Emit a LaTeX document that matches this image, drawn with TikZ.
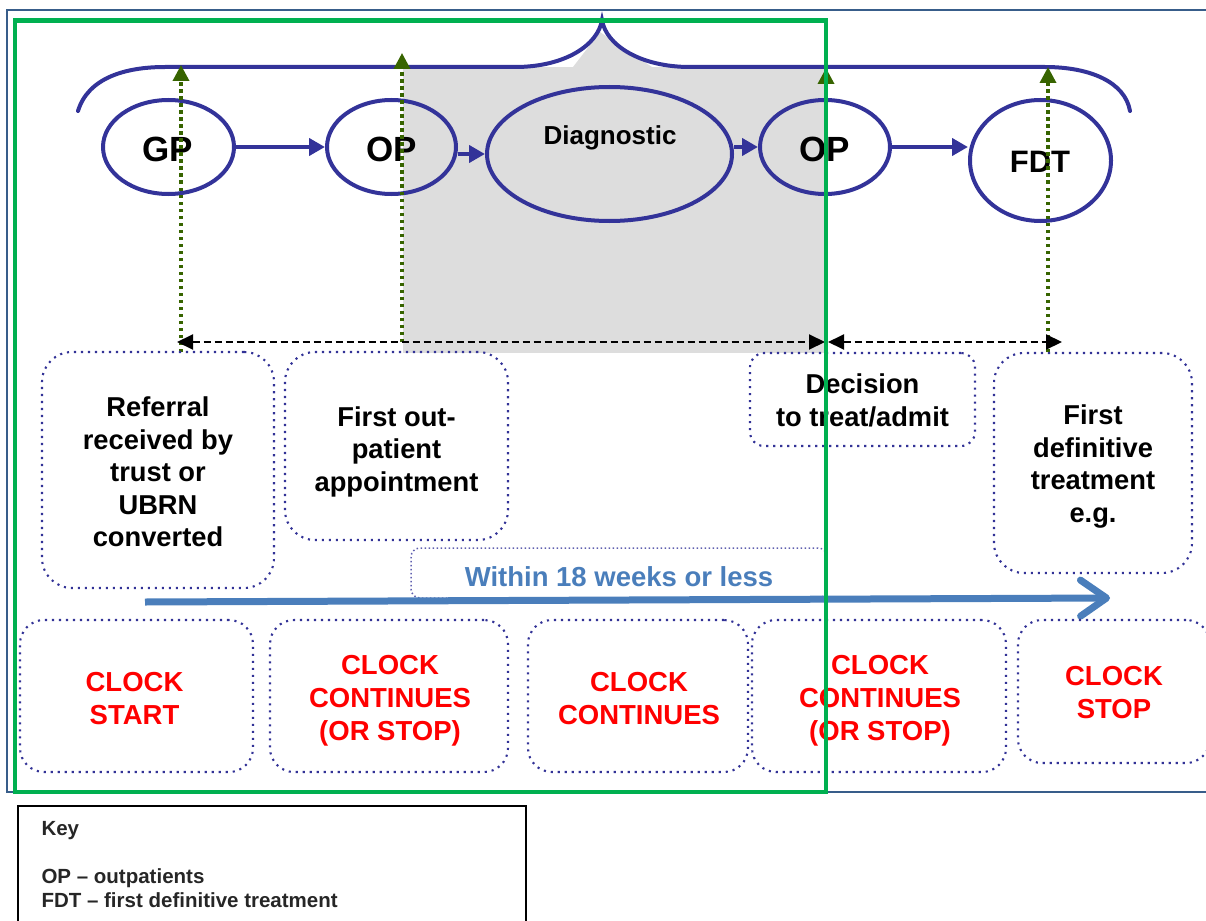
\documentclass[tikz,border=0pt]{standalone}
\usepackage{fontspec}
\setmainfont{Liberation Sans}
\usetikzlibrary{shapes.geometric,arrows.meta}

\definecolor{pathblue}{RGB}{51,51,153}
\definecolor{dotblue}{RGB}{50,50,150}
\definecolor{thindot}{RGB}{95,95,175}
\definecolor{framegreen}{RGB}{0,176,80}
\definecolor{markgreen}{RGB}{55,100,0}
\definecolor{spanblue}{RGB}{74,126,187}
\definecolor{greyfill}{RGB}{221,221,221}
\definecolor{frameblue}{RGB}{56,93,138}
\definecolor{clockred}{RGB}{255,0,0}
\definecolor{keygray}{RGB}{38,38,38}

\newcommand\setfs[2]{\fontsize{#1}{#2}\selectfont}

\begin{document}
\begin{tikzpicture}[x=1pt,y=-1pt,
  stage/.style={ellipse, draw=pathblue, line width=4pt, inner sep=0pt},
  stagetext/.style={anchor=base, font=\bfseries\setfs{35}{40}},
  flow/.style={draw=pathblue, line width=4pt, -{Triangle[length=16pt,width=17pt]}},
  marker/.style={draw=markgreen, line width=3.5pt, dash pattern=on 3.5pt off 3.5pt,
    -{Triangle[length=16pt,width=16pt]}},
  span/.style={draw=black, line width=2pt, dash pattern=on 7pt off 4pt,
    {Triangle[length=16pt,width=15pt]}-{Triangle[length=16pt,width=15pt]}},
  notebox/.style={draw=dotblue, line width=2.1pt, dash pattern=on 2.1pt off 4.9pt,
    rounded corners=30pt, inner sep=0pt},
  notetext/.style={align=center, inner sep=0pt, font=\bfseries\setfs{27.3}{32.5}},
  clockbox/.style={notebox, rounded corners=24pt},
  clocktext/.style={align=center, inner sep=0pt, text=clockred,
    font=\bfseries\setfs{27.5}{33}},
  keytext/.style={anchor=base west, text=keygray, font=\bfseries\setfs{20.5}{24}}
]
\useasboundingbox (0,0) rectangle (1206,920);

% shaded diagnostic period
\fill[greyfill] (403,67) rectangle (826,353);
\fill[greyfill] (573,67) -- (600,32) -- (652,67) -- cycle;

% brace over the pathway
\draw[pathblue, line width=4pt, line cap=round]
  (78,111) .. controls (88,78) and (125,67) .. (165,67) -- (515,67)
  .. controls (565,67) and (598,45) .. (602,20)
  .. controls (606,45) and (640,67) .. (690,67) -- (1045,67)
  .. controls (1090,67) and (1125,82) .. (1130,111);

% pathway stages
\node[stage, minimum width=131pt, minimum height=94pt] (gp) at (168.5,147) {};
\node[stage, minimum width=129pt, minimum height=94pt] (op1) at (391.5,147) {};
\node[stage, minimum width=245pt, minimum height=134pt] (diag) at (609.5,154) {};
\node[stage, minimum width=130pt, minimum height=94pt] (op2) at (825,147) {};
\node[stage, minimum width=141pt, minimum height=121pt] (fdt) at (1040.5,160.5) {};

\node[stagetext] (gpt) at (168,161) {GP};
\node[stagetext] (op1t) at (392,161) {OP};
\node[stagetext] (op2t) at (825,161) {OP};
\node[anchor=base, font=\bfseries\setfs{26}{30}] (diagt) at (610,145) {Diagnostic};
\node[anchor=base, font=\bfseries\setfs{31}{36}] (fdtt) at (1040,173) {FDT};

% pathway arrows
\draw[flow] (gp) -- (op1);
\draw[flow] (op1.east |- diag.west) -- (diag.west);
\draw[flow] (diag.east |- op2.west) -- (op2.west);
\draw[flow] (op2.east) -- (op2.east -| fdt.west);

% milestone markers
\coordinate (m1b) at (181,352);  \coordinate (m1t) at (181,65);
\coordinate (m2b) at (402,342);  \coordinate (m2t) at (402,53);
\coordinate (m3b) at (826,342);  \coordinate (m3t) at (826,68);
\coordinate (m4b) at (1048,352); \coordinate (m4t) at (1048,67);
\draw[marker] (m1b) -- (m1t);
\draw[marker] (m2b) -- (m2t);
\draw[marker] (m3b) -- (m3t);
\draw[marker] (m4b) -- (m4t);

% intervals
\coordinate (d1) at (177,342);
\coordinate (d2) at (825,342);
\coordinate (d3) at (828,342);
\coordinate (d4) at (1062,342);
\draw[span] (d1) -- (d2);
\draw[span] (d3) -- (d4);

% milestone descriptions
\node[notebox, minimum width=232pt, minimum height=236pt] (ref) at (158,470) {};
\node[notebox, minimum width=223pt, minimum height=188pt] (fop) at (396.5,446) {};
\node[notebox, rounded corners=14pt, minimum width=225pt, minimum height=93pt] (dec) at (862.5,399.5) {};
\node[notebox, minimum width=198pt, minimum height=220pt] (fdtbox) at (1093,463) {};

\node[notetext] (reft) at ([yshift=-2pt]ref) {Referral\\received by\\trust or\\UBRN\\converted};
\node[notetext] (fopt) at ([yshift=-5.5pt]fop) {First out-\\patient\\appointment};
\node[notetext] (dect) at ([yshift=-1pt]dec) {Decision\\to treat/admit};
\node[notetext] (fdtboxt) at ([yshift=-3.5pt]fdtbox) {First\\definitive\\treatment\\e.g.};

% overall period
\node[notebox, draw=thindot, line width=1.5pt, dash pattern=on 1.5pt off 2.5pt, rounded corners=9pt,
  minimum width=416pt, minimum height=50pt] (within) at (619,573) {};
\node[text=spanblue, inner sep=0pt, font=\bfseries\setfs{27.5}{32}] (withint)
  at ([yshift=-4pt]within) {Within 18 weeks or less};
\coordinate (sL) at (145,602);
\coordinate (sR) at (1110,598);
\draw[spanblue, line width=7pt,
  -{Straight Barb[length=26pt,width=36pt,line width=7pt,line cap=round,line join=round]}] (sL) -- (sR);

% clock states
\node[clockbox, minimum width=233pt, minimum height=152pt] (cs) at (136.5,696) {};
\node[clockbox, minimum width=238pt, minimum height=152pt] (cc1) at (389,696) {};
\node[clockbox, minimum width=220pt, minimum height=152pt] (cc2) at (638,696) {};
\node[clockbox, minimum width=254pt, minimum height=152pt] (cc3) at (879,696) {};
\node[clockbox, minimum width=192pt, minimum height=143pt] (cst) at (1114,691.5) {};

\node[clocktext] (cst0) at ([xshift=-2pt,yshift=-3pt]cs) {CLOCK\\START};
\node[clocktext] (cc1t) at ([xshift=1pt,yshift=-5pt]cc1) {CLOCK\\CONTINUES\\(OR STOP)};
\node[clocktext] (cc2t) at ([xshift=1pt,yshift=-3pt]cc2) {CLOCK\\CONTINUES};
\node[clocktext] (cc3t) at ([xshift=1pt,yshift=-5pt]cc3) {CLOCK\\CONTINUES\\(OR STOP)};
\node[clocktext] (cstt) at ([yshift=-1.5pt]cst) {CLOCK\\STOP};

% frames
\draw[frameblue, line width=1.6pt] (7,10) rectangle (1208,792);
\draw[framegreen, line width=4.5pt] (15,20.5) rectangle (826,792);

% key
\draw[black, line width=2pt] (18,806) rectangle (526,940);
\node[keytext] (k0) at (38,835) {Key};
\node[keytext] (k1) at (38,883) {OP – outpatients};
\node[keytext] (k2) at (38,907) {FDT – first definitive treatment};
\end{tikzpicture}
\end{document}
